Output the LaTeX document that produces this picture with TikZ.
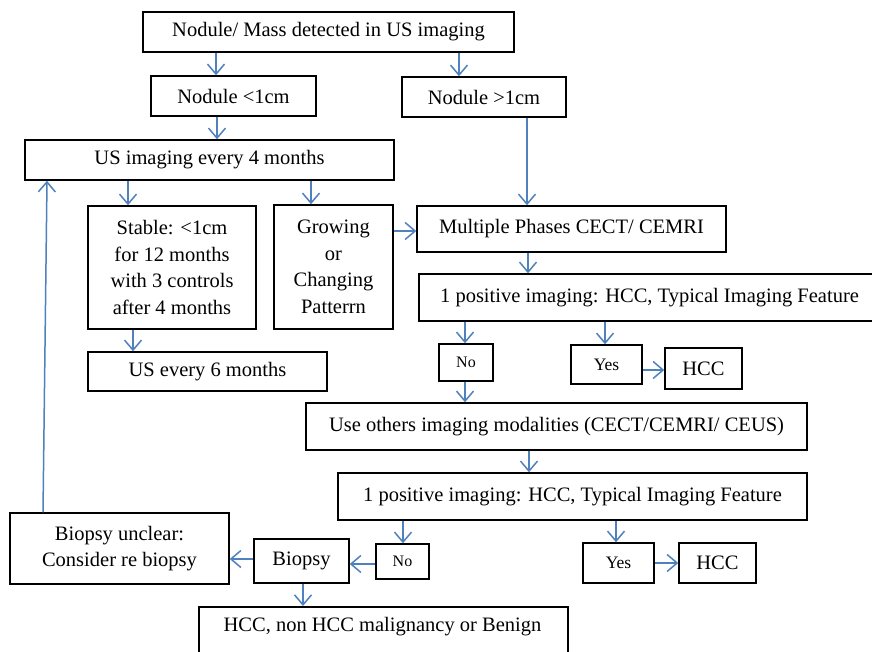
\documentclass[tikz,border=0pt]{standalone}
\usepackage{fontspec}
\setmainfont{Liberation Serif}
\usetikzlibrary{arrows.meta}
\definecolor{arrblue}{RGB}{79,129,189}
\tikzset{
  box/.style={draw=black, line width=1.5pt, rectangle, inner sep=0pt, align=center,
    font=\fontsize{20.5}{26.5}\selectfont},
  yesfont/.style={font=\fontsize{17.5}{20}\selectfont},
  nofont/.style={font=\fontsize{16}{19}\selectfont},
  arr/.style={draw=arrblue, line width=1.5pt,
    -{Straight Barb[length=10pt,width=17pt,line width=1.5pt]}},
}
\newcommand\bx[7][]{\node[box,#1,minimum width={#5-#3},minimum height={#6-#4}] (#2) at ({(#3+#5)/2},{(#4+#6)/2}) {#7};}
\begin{document}
\begin{tikzpicture}[x=1pt,y=-1pt]
\useasboundingbox (0,0) rectangle (872,652);
\clip (0,0) rectangle (872,652);
\fill[white] (0,0) rectangle (872,652);
\bx{top}{143}{12}{514}{52}{Nodule/ Mass detected in US imaging}
\bx{na}{151}{76}{316}{116}{Nodule <1cm}
\bx{nb}{402}{77}{566}{117}{Nodule >1cm}
\bx{usf}{25}{140}{394}{180}{US imaging every 4 months}
\bx{stable}{88}{206}{256}{329}{Stable: <1cm\\for 12 months\\with 3 controls\\after 4 months}
\bx{grow}{274}{205}{393}{329}{Growing\\or\\Changing\\Patterrn}
\bx{mp}{417}{206}{726}{252}{Multiple Phases CECT/ CEMRI}
\bx{posa}{419}{274}{880}{321}{1 positive imaging: HCC, Typical Imaging Feature}
\bx{uss}{88}{352}{327}{391}{US every 6 months}
\bx[nofont]{noa}{439}{344}{493}{381}{No}
\bx[yesfont]{yesa}{571}{345}{642}{384}{Yes}
\bx{hcca}{665}{348}{742}{389}{HCC}
\bx{other}{306}{403}{807}{450}{Use others imaging modalities (CECT/CEMRI/ CEUS)}
\bx{posb}{338}{473}{807}{520}{1 positive imaging: HCC, Typical Imaging Feature}
\bx{unclear}{10}{513}{229}{584}{Biopsy unclear:\\Consider re biopsy}
\bx{biopsy}{254}{539}{349}{583}{Biopsy}
\bx[nofont]{nob}{376}{544}{429}{579}{No}
\bx[yesfont]{yesb}{583}{543}{654}{583}{Yes}
\bx{hccb}{679}{543}{756}{583}{HCC}
\node[box,minimum width=369,minimum height=49,anchor=north west,text depth=0pt] (final) at (198,606) {};
\node[font=\fontsize{20.5}{26.5}\selectfont] (finaltext) at (382.5,627) {HCC, non HCC malignancy or Benign};
% arrows
\draw[arr] (top.south -| 216,0) -- (na.north -| 216,0);
\draw[arr] (top.south -| 459,0) -- (nb.north -| 459,0);
\draw[arr] (na.south -| 217,0) -- (usf.north -| 217,0);
\draw[arr] (usf.south -| 128,0) -- (stable.north -| 128,0);
\draw[arr] (usf.south -| 311,0) -- (grow.north -| 311,0);
\draw[arr] (nb.south -| 527,0) -- (mp.north -| 527,0);
\draw[arr] (grow.east |- 0,231) -- (mp.west |- 0,231);
\draw[arr] (stable.south -| 133,0) -- (uss.north -| 133,0);
\draw[arr] (mp.south -| 528,0) -- (posa.north -| 528,0);
\draw[arr] (posa.south -| 465,0) -- (noa.north -| 465,0);
\draw[arr] (posa.south -| 605,0) -- (yesa.north -| 605,0);
\draw[arr] (yesa.east |- 0,370) -- (hcca.west |- 0,370);
\draw[arr] (noa.south -| 465,0) -- (other.north -| 465,0);
\draw[arr] (other.south -| 529,0) -- (posb.north -| 529,0);
\draw[arr] (posb.south -| 403,0) -- (nob.north -| 403,0);
\draw[arr] (posb.south -| 616,0) -- (yesb.north -| 616,0);
\draw[arr] (yesb.east |- 0,563) -- (hccb.west |- 0,563);
\draw[arr] (nob.west |- 0,564) -- (biopsy.east |- 0,564);
\draw[arr] (biopsy.west |- 0,559) -- (unclear.east |- 0,559);
\draw[arr] (biopsy.south -| 303,0) -- (final.north -| 303,0);
\draw[arr] (unclear.north -| 43,0) -- (usf.south -| 47,0);
\end{tikzpicture}
\end{document}
